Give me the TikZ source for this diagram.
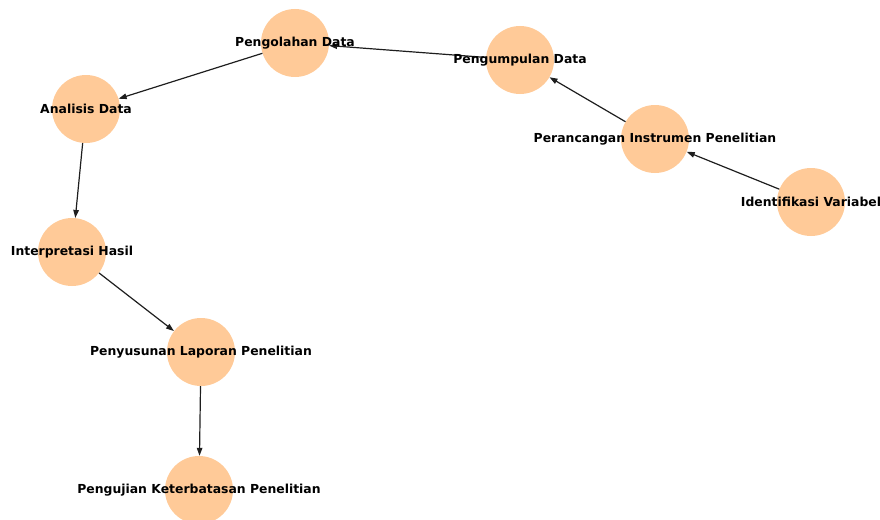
\documentclass[tikz,border=0pt]{standalone}
\usepackage{fontspec}
\setmainfont{DejaVu Sans}
\usetikzlibrary{arrows.meta}
\definecolor{peach}{RGB}{255,202,152}
\definecolor{edgec}{RGB}{30,30,30}
\tikzset{
  circ/.style={circle, fill=peach, draw=none, minimum size=68pt, inner sep=0pt},
  lbl/.style={font=\fontsize{12.4pt}{14pt}\selectfont\bfseries, text=black, inner sep=0pt},
  edge/.style={draw=edgec, line width=1.2pt, -{Stealth[length=8pt,width=5.5pt,inset=0pt]}}
}
\begin{document}
\begin{tikzpicture}[x=1pt,y=-1pt]
\useasboundingbox (0,0) rectangle (880,519);
% circles
\node[circ] (pd) at (295,43) {};
\node[circ] (pu) at (520,60) {};
\node[circ] (ad) at (86,109) {};
\node[circ] (pi) at (655,139) {};
\node[circ] (iv) at (811,202) {};
\node[circ] (ih) at (72,252) {};
\node[circ] (pl) at (201,352) {};
\node[circ] (pk) at (199,490) {};
% edges
\draw[edge] (iv) -- (pi);
\draw[edge] (pi) -- (pu);
\draw[edge] (pu) -- (pd);
\draw[edge] (pd) -- (ad);
\draw[edge] (ad) -- (ih);
\draw[edge] (ih) -- (pl);
\draw[edge] (pl) -- (pk);
% labels
\node[lbl] (tpd) at (pd) {Pengolahan Data};
\node[lbl] (tpu) at (pu) {Pengumpulan Data};
\node[lbl] (tad) at (ad) {Analisis Data};
\node[lbl] (tpi) at (pi) {Perancangan Instrumen Penelitian};
\node[lbl] (tiv) at (iv) {Identifikasi Variabel};
\node[lbl] (tih) at (ih) {Interpretasi Hasil};
\node[lbl] (tpl) at (pl) {Penyusunan Laporan Penelitian};
\node[lbl] (tpk) at (pk) {Pengujian Keterbatasan Penelitian};
\end{tikzpicture}
\end{document}
